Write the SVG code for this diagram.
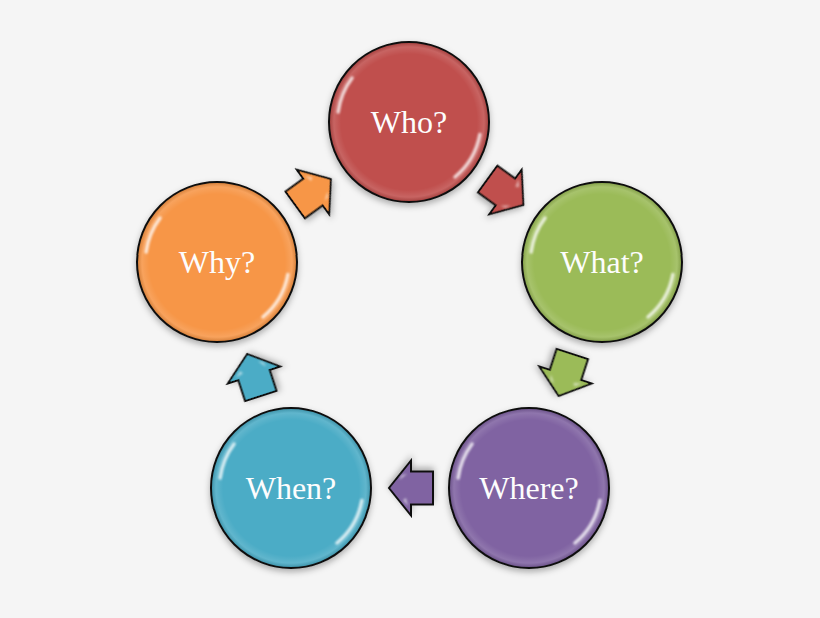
<svg xmlns="http://www.w3.org/2000/svg" width="820" height="618" viewBox="0 0 820 618">
<defs>
<filter id="sh" x="-20%" y="-20%" width="140%" height="140%">
<feDropShadow dx="0" dy="3" stdDeviation="3" flood-color="#000" flood-opacity="0.3"/>
</filter>
<filter id="bl" x="-30%" y="-30%" width="160%" height="160%">
<feGaussianBlur stdDeviation="1.2"/>
</filter>
<radialGradient id="bev" cx="0.5" cy="0.5" r="0.5">
<stop offset="0.86" stop-color="#fff" stop-opacity="0"/>
<stop offset="0.95" stop-color="#fff" stop-opacity="0.12"/>
<stop offset="1" stop-color="#000" stop-opacity="0.12"/>
</radialGradient>
<path id="arr" d="M -22,-16.5 L 0,-16.5 L 0,-27.5 L 22,0 L 0,27.5 L 0,16.5 L -22,16.5 Z"/>
</defs>
<style>
.disc{stroke:#111;stroke-width:2}
.bev{fill:url(#bev)}
.hl{fill:none;stroke:#fff;stroke-width:3.5;stroke-linecap:round;opacity:0.75;filter:url(#bl)}
.lbl{font-family:"Liberation Serif","DejaVu Serif",serif;font-size:32px;fill:#fdfdfd;text-anchor:middle}
.ar{stroke:#111;stroke-width:2;stroke-linejoin:miter}
.ahl{fill:#fff;opacity:0.55;filter:url(#bl)}
</style>
<rect width="820" height="618" fill="#f5f5f5"/>

<g id="connectors">
<g transform="translate(505.5,192) rotate(36)" filter="url(#sh)">
<use href="#arr" class="ar" fill="#c0504d"/>
<path class="ahl" d="M 3,-18 L 8,-12 L 5,-10 Z"/><path class="ahl" d="M 4,14 L 12,8 L 9,13 Z"/>
</g>
<g transform="translate(565.5,375) rotate(108)" filter="url(#sh)">
<use href="#arr" class="ar" fill="#9bbb59"/>
<path class="ahl" d="M 3,-18 L 8,-12 L 5,-10 Z"/><path class="ahl" d="M 4,14 L 12,8 L 9,13 Z"/>
</g>
<g transform="translate(411,488) rotate(180)" filter="url(#sh)">
<use href="#arr" class="ar" fill="#8064a2"/>
<path class="ahl" d="M 3,-18 L 8,-12 L 5,-10 Z"/><path class="ahl" d="M 4,14 L 12,8 L 9,13 Z"/>
</g>
<g transform="translate(254,375) rotate(252)" filter="url(#sh)">
<use href="#arr" class="ar" fill="#4bacc6"/>
<path class="ahl" d="M 3,-18 L 8,-12 L 5,-10 Z"/><path class="ahl" d="M 4,14 L 12,8 L 9,13 Z"/>
</g>
<g transform="translate(313,192) rotate(-36)" filter="url(#sh)">
<use href="#arr" class="ar" fill="#f79646"/>
<path class="ahl" d="M 3,-18 L 8,-12 L 5,-10 Z"/><path class="ahl" d="M 4,14 L 12,8 L 9,13 Z"/>
</g>
</g>

<g id="who" transform="translate(409,122)">
<circle r="80" class="disc" fill="#c0504d" filter="url(#sh)"/>
<circle r="79" class="bev"/>
<path class="hl" d="M -70.9,-10 A 72 72 0 0 1 -57,-44"/>
<path class="hl" d="M 70.9,12.5 A 72 72 0 0 1 46,55"/>
<text class="lbl" y="11">Who?</text>
</g>

<g id="what" transform="translate(602,262)">
<circle r="80" class="disc" fill="#9bbb59" filter="url(#sh)"/>
<circle r="79" class="bev"/>
<path class="hl" d="M -70.9,-10 A 72 72 0 0 1 -57,-44"/>
<path class="hl" d="M 70.9,12.5 A 72 72 0 0 1 46,55"/>
<text class="lbl" y="11">What?</text>
</g>

<g id="where" transform="translate(529,488)">
<circle r="80" class="disc" fill="#8064a2" filter="url(#sh)"/>
<circle r="79" class="bev"/>
<path class="hl" d="M -70.9,-10 A 72 72 0 0 1 -57,-44"/>
<path class="hl" d="M 70.9,12.5 A 72 72 0 0 1 46,55"/>
<text class="lbl" y="11">Where?</text>
</g>

<g id="when" transform="translate(291,488)">
<circle r="80" class="disc" fill="#4bacc6" filter="url(#sh)"/>
<circle r="79" class="bev"/>
<path class="hl" d="M -70.9,-10 A 72 72 0 0 1 -57,-44"/>
<path class="hl" d="M 70.9,12.5 A 72 72 0 0 1 46,55"/>
<text class="lbl" y="11">When?</text>
</g>

<g id="why" transform="translate(217,262)">
<circle r="80" class="disc" fill="#f79646" filter="url(#sh)"/>
<circle r="79" class="bev"/>
<path class="hl" d="M -70.9,-10 A 72 72 0 0 1 -57,-44"/>
<path class="hl" d="M 70.9,12.5 A 72 72 0 0 1 46,55"/>
<text class="lbl" y="11">Why?</text>
</g>
</svg>
